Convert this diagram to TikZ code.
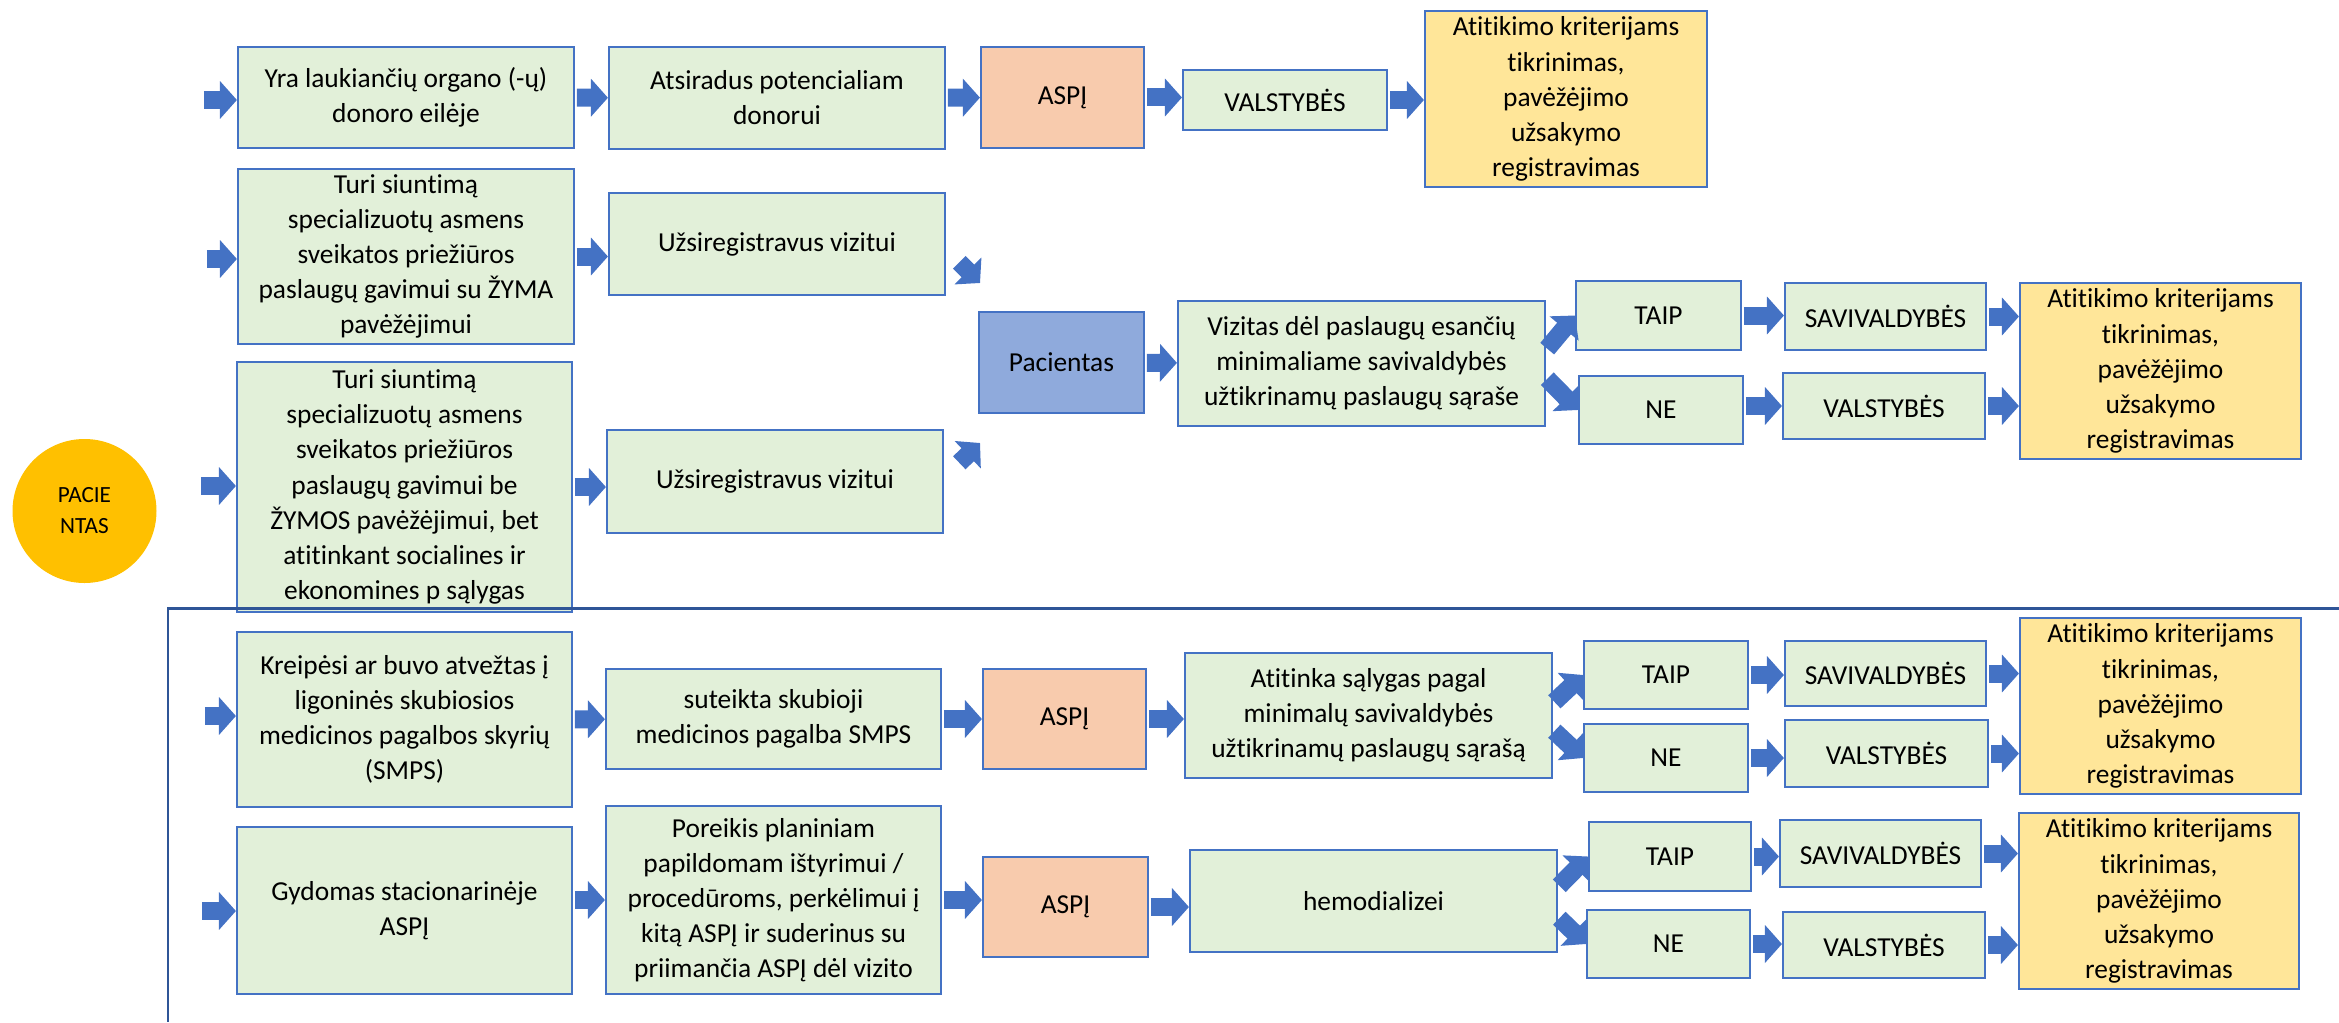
\documentclass[tikz,border=0pt]{standalone}
\usepackage{fontspec}
\setmainfont{Carlito}[Ligatures=NoCommon]
\usetikzlibrary{arrows.meta}
\definecolor{boxgreen}{HTML}{E2F0D9}
\definecolor{boxline}{HTML}{4472C4}
\definecolor{aspjfill}{HTML}{F8CBAD}
\definecolor{pacfill}{HTML}{8FAADC}
\definecolor{checkfill}{HTML}{FFE699}
\definecolor{roundfill}{HTML}{FFC000}
\definecolor{arrowblue}{HTML}{4472C4}
\definecolor{framecol}{HTML}{2F5597}
\tikzset{
  plainbox/.style={draw=boxline, line width=0.6pt, inner sep=0pt, align=center, font=\fontsize{7.8}{10}\selectfont},
  greenbox/.style={plainbox, fill=boxgreen},
  aspjbox/.style={plainbox, fill=aspjfill},
  pacbox/.style={plainbox, fill=pacfill},
  checkbox/.style={plainbox, fill=checkfill},
  flow/.style={draw=arrowblue, line width=0.18cm, shorten <=0.5pt, -{Triangle[length=0.17cm,width=0.37cm]}},
}
\begin{document}
\begin{tikzpicture}[x=1cm,y=-1cm]
\useasboundingbox (0,0) rectangle (23.39,10.22);
\node[circle, fill=roundfill, minimum size=1.44cm, inner sep=0pt, align=center, font=\fontsize{6.6}{8.8}\selectfont] (pat) at (0.845,5.11) {PACIE\\NTAS};
\node[greenbox, minimum width=3.36cm, minimum height=1.01cm] (yra) at (4.06,0.975) {Yra laukiančių organo (-ų)\\donoro eilėje};
\node[greenbox, minimum width=3.36cm, minimum height=1.02cm] (ats) at (7.77,0.98) {Atsiradus potencialiam\\donorui};
\node[aspjbox, minimum width=1.63cm, minimum height=1.01cm] (aspja) at (10.625,0.975) {ASPĮ};
\node[greenbox, minimum width=2.04cm, minimum height=0.60cm] (vala) at (12.85,1.00) {VALSTYBĖS};
\node[checkbox, minimum width=2.82cm, minimum height=1.76cm] (chka) at (15.66,0.99) {Atitikimo kriterijams\\tikrinimas,\\pavėžėjimo\\užsakymo\\registravimas};
\node[greenbox, minimum width=3.36cm, minimum height=1.75cm] (zyma) at (4.06,2.565) {Turi siuntimą\\specializuotų asmens\\sveikatos priežiūros\\paslaugų gavimui su ŽYMA\\pavėžėjimui};
\node[greenbox, minimum width=3.36cm, minimum height=1.02cm] (reg1) at (7.77,2.44) {Užsiregistravus vizitui};
\node[greenbox, minimum width=3.35cm, minimum height=2.50cm] (bezyma) at (4.045,4.87) {Turi siuntimą\\specializuotų asmens\\sveikatos priežiūros\\paslaugų gavimui be\\ŽYMOS pavėžėjimui, bet\\atitinkant socialines ir\\ekonomines p sąlygas};
\node[greenbox, minimum width=3.36cm, minimum height=1.03cm] (reg2) at (7.75,4.815) {Užsiregistravus vizitui};
\node[pacbox, minimum width=1.65cm, minimum height=1.01cm] (pac) at (10.615,3.625) {Pacientas};
\node[greenbox, minimum width=3.67cm, minimum height=1.25cm] (viz) at (13.615,3.635) {Vizitas dėl paslaugų esančių\\minimaliame savivaldybės\\užtikrinamų paslaugų sąraše};
\node[greenbox, minimum width=1.65cm, minimum height=0.69cm] (taipa) at (16.585,3.155) {TAIP};
\node[greenbox, minimum width=2.01cm, minimum height=0.67cm] (sava) at (18.855,3.165) {SAVIVALDYBĖS};
\node[greenbox, minimum width=1.64cm, minimum height=0.68cm] (nea) at (16.61,4.10) {NE};
\node[greenbox, minimum width=2.02cm, minimum height=0.66cm] (valb) at (18.84,4.06) {VALSTYBĖS};
\node[checkbox, minimum width=2.81cm, minimum height=1.76cm] (chkb) at (21.605,3.71) {Atitikimo kriterijams\\tikrinimas,\\pavėžėjimo\\užsakymo\\registravimas};
\node[greenbox, minimum width=3.35cm, minimum height=1.75cm] (kre) at (4.045,7.195) {Kreipėsi ar buvo atvežtas į\\ligoninės skubiosios\\medicinos pagalbos skyrių\\(SMPS)};
\node[greenbox, minimum width=3.35cm, minimum height=1.00cm] (smps) at (7.735,7.19) {suteikta skubioji\\medicinos pagalba SMPS};
\node[aspjbox, minimum width=1.63cm, minimum height=1.00cm] (aspjb) at (10.645,7.19) {ASPĮ};
\node[greenbox, minimum width=3.67cm, minimum height=1.25cm] (ati) at (13.685,7.155) {Atitinka sąlygas pagal\\minimalų savivaldybės\\užtikrinamų paslaugų sąrašą};
\node[greenbox, minimum width=1.64cm, minimum height=0.68cm] (taipb) at (16.66,6.75) {TAIP};
\node[greenbox, minimum width=2.01cm, minimum height=0.65cm] (savb) at (18.855,6.735) {SAVIVALDYBĖS};
\node[greenbox, minimum width=1.64cm, minimum height=0.68cm] (neb) at (16.66,7.58) {NE};
\node[greenbox, minimum width=2.03cm, minimum height=0.67cm] (valc) at (18.865,7.535) {VALSTYBĖS};
\node[checkbox, minimum width=2.81cm, minimum height=1.76cm] (chkc) at (21.605,7.06) {Atitikimo kriterijams\\tikrinimas,\\pavėžėjimo\\užsakymo\\registravimas};
\node[greenbox, minimum width=3.35cm, minimum height=1.67cm] (gyd) at (4.045,9.105) {Gydomas stacionarinėje\\ASPĮ};
\node[greenbox, minimum width=3.35cm, minimum height=1.88cm] (por) at (7.735,9.00) {Poreikis planiniam\\papildomam ištyrimui /\\procedūroms, perkėlimui į\\kitą ASPĮ ir suderinus su\\priimančia ASPĮ dėl vizito};
\node[aspjbox, minimum width=1.65cm, minimum height=1.00cm] (aspjc) at (10.655,9.07) {ASPĮ};
\node[greenbox, minimum width=3.67cm, minimum height=1.02cm] (hem) at (13.735,9.01) {hemodializei};
\node[greenbox, minimum width=1.62cm, minimum height=0.69cm] (taipc) at (16.70,8.565) {TAIP};
\node[greenbox, minimum width=2.01cm, minimum height=0.67cm] (savc) at (18.805,8.535) {SAVIVALDYBĖS};
\node[greenbox, minimum width=1.63cm, minimum height=0.68cm] (nec) at (16.685,9.44) {NE};
\node[greenbox, minimum width=2.02cm, minimum height=0.66cm] (vald) at (18.84,9.45) {VALSTYBĖS};
\node[checkbox, minimum width=2.80cm, minimum height=1.76cm] (chkd) at (21.59,9.01) {Atitikimo kriterijams\\tikrinimas,\\pavėžėjimo\\užsakymo\\registravimas};
\coordinate (in1) at (2.02,1.00);
\coordinate (in2) at (2.05,2.59);
\coordinate (in3) at (1.99,4.86);
\coordinate (in4) at (2.03,7.16);
\coordinate (in5) at (2.00,9.11);
\coordinate (d1) at (9.58,2.61);
\coordinate (d2) at (9.80,2.83);
\coordinate (d3) at (9.58,4.64);
\coordinate (d4) at (9.80,4.43);
\draw[flow] (in1) -- (in1 -| yra.west);
\draw[flow] (in2) -- (in2 -| zyma.west);
\draw[flow] (in3) -- (in3 -| bezyma.west);
\draw[flow] (in4) -- (in4 -| kre.west);
\draw[flow] (in5) -- (in5 -| gyd.west);
\draw[flow] (yra) -- (ats);
\draw[flow] (ats) -- (aspja);
\draw[flow] (aspja.east) -- (aspja.east -| vala.west);
\draw[flow] (vala) -- (vala -| chka.west);
\draw[flow] (zyma.east) -- (zyma.east -| reg1.west);
\draw[flow] (bezyma.east) -- (bezyma.east -| reg2.west);
\draw[flow] (d1) -- (d2);
\draw[flow] (d3) -- (d4);
\draw[flow] (pac) -- (viz);
\draw[flow] ([yshift=0.135cm]viz.east) -- (taipa.west);
\draw[flow] ([yshift=-0.14cm]viz.east) -- (nea.west);
\draw[flow] (taipa.east) -- (taipa.east -| sava.west);
\draw[flow] (sava.east) -- (sava.east -| chkb.west);
\draw[flow] (valb.west -| nea.east) -- (valb.west);
\draw[flow] (valb.east) -- (valb.east -| chkb.west);
\draw[flow] (kre) -- (smps);
\draw[flow] (smps) -- (aspjb);
\draw[flow] (aspjb.east) -- (aspjb.east -| ati.west);
\draw[flow] ([yshift=0.125cm]ati.east) -- (taipb.west);
\draw[flow] ([yshift=-0.145cm]ati.east) -- (neb.west);
\draw[flow] (taipb.east) -- (taipb.east -| savb.west);
\draw[flow] (savb.east) -- (savb.east -| chkc.west);
\draw[flow] (neb.east) -- (neb.east -| valc.west);
\draw[flow] (valc.east) -- (valc.east -| chkc.west);
\draw[flow] (por.west -| gyd.east) -- (por.west);
\draw[flow] (por.east) -- (por.east -| aspjc.west);
\draw[flow] (aspjc.east) -- (aspjc.east -| hem.west);
\draw[flow] ([yshift=0.14cm]hem.east) -- (taipc.west);
\draw[flow] ([yshift=-0.16cm]hem.east) -- (nec.west);
\draw[flow] (taipc.east) -- (taipc.east -| savc.west);
\draw[flow] (savc.east) -- (savc.east -| chkd.west);
\draw[flow] (nec.east) -- (nec.east -| vald.west);
\draw[flow] (vald.east) -- (vald.east -| chkd.west);
\draw[framecol, line width=0.85pt] (23.39,6.08) -- (1.68,6.08) -- (1.68,10.22);
\end{tikzpicture}
\end{document}
